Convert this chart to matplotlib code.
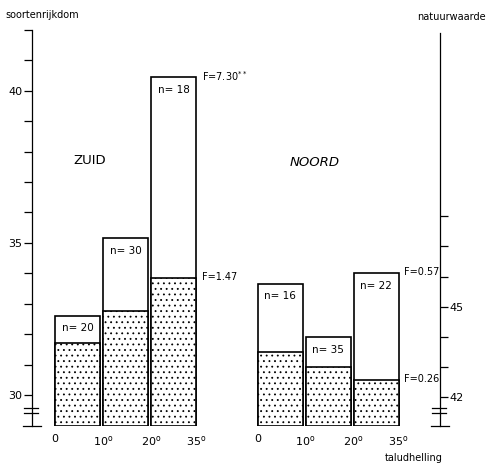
import matplotlib
matplotlib.use('Agg')
import matplotlib.pyplot as plt
from matplotlib.lines import Line2D

# taludhelling (grenzen van de klassen)
grens_labels = ['0', '10$^{\\mathrm{o}}$', '20$^{\\mathrm{o}}$', '35$^{\\mathrm{o}}$']

# ZUID: soortenrijkdom (linker as) en natuurwaarde (rechter as)
zuid_soorten = [32.6, 35.15, 40.45]
zuid_natuur = [43.8, 44.85, 45.95]
zuid_n = [20, 30, 18]
zuid_f = ['F=7.30$^{**}$', 'F=1.47']

# NOORD
noord_soorten = [33.65, 31.9, 34.0]
noord_natuur = [43.5, 43.0, 42.55]
noord_n = [16, 35, 22]
noord_f = ['F=0.57', 'F=0.26']

W, H = 490, 465
plt.rcParams['font.family'] = 'DejaVu Sans'
plt.rcParams['hatch.color'] = '#a0a0a0'
plt.rcParams['hatch.linewidth'] = 0.6

fig = plt.figure(figsize=(W / 100, H / 100), dpi=100)
ax = fig.add_axes([32 / W, 1 - 426 / H, 408 / W, 396 / H])
ax2 = ax.twinx()

ax.set_xlim(0, 8.5)
ax.set_ylim(28.98, 42.0)
ax2.set_ylim(41.03, 54.2)

breedte = 0.94
starts = [0.48, 4.70]
groepen = [(zuid_soorten, zuid_natuur, zuid_n, zuid_f),
           (noord_soorten, noord_natuur, noord_n, noord_f)]

xticks = []
for start, (soorten, natuur, ns, fl) in zip(starts, groepen):
    xs = [start + i for i in range(3)]
    ax.bar(xs, [s - 28.98 for s in soorten], bottom=28.98, width=breedte,
           align='edge', facecolor='white', edgecolor='black', linewidth=1.2)
    ax2.bar(xs, [v - 41.03 for v in natuur], bottom=41.03, width=breedte,
            align='edge', facecolor='white', edgecolor='black', linewidth=1.2,
            hatch='...')
    for x, s, n in zip(xs, soorten, ns):
        ax.annotate(f'n= {n}', (x + breedte / 2, s), xytext=(0, -9),
                    textcoords='offset points', ha='center', va='center',
                    fontsize=7.5)
    xticks += xs + [xs[-1] + breedte]
    # F-waarden bij de laatste balk
    ax.annotate(fl[0], (xs[-1] + breedte, soorten[-1]), xytext=(4, 1),
                textcoords='offset points', ha='left', va='center', fontsize=7)
    ax2.annotate(fl[1], (xs[-1] + breedte, natuur[-1]), xytext=(4, 1),
                 textcoords='offset points', ha='left', va='center', fontsize=7)

ax.text(1.21, 37.7, 'ZUID', ha='center', va='center', fontsize=9.5)
ax.text(5.9, 37.66, 'NOORD', ha='center', va='center', fontsize=9.5,
        style='italic')

ax.set_xticks(xticks)
ax.set_xticklabels(grens_labels * 2, fontsize=8)
ax.tick_params(axis='x', length=0, pad=6)

ax.set_yticks(range(30, 43))
ax.set_yticklabels([str(v) if v % 5 == 0 else '' for v in range(30, 43)],
                   fontsize=8)
ax.tick_params(axis='y', length=6, width=0.9, pad=1)
ax2.set_yticks(range(42, 49))
ax2.set_yticklabels([str(v) if v in (42, 45) else '' for v in range(42, 49)],
                    fontsize=8)
ax2.tick_params(axis='y', length=6, width=0.9, pad=1)

for a in (ax, ax2):
    a.spines['top'].set_visible(False)
    a.spines['bottom'].set_visible(False)
ax.spines['right'].set_visible(False)
ax2.spines['left'].set_visible(False)
ax.spines['left'].set_bounds(29.4, 42.0)
ax2.spines['right'].set_bounds(41.45, 54.1)
ax.spines['left'].set_linewidth(0.9)
ax2.spines['right'].set_linewidth(0.9)


def lijn(x0, y0, x1, y1):
    fig.add_artist(Line2D([x0 / W, x1 / W], [1 - y0 / H, 1 - y1 / H],
                          color='black', linewidth=0.9))


# asbreuk-tekens onderaan beide assen
for xa in (32, 440):
    lijn(xa - 8, 408, xa + 6, 408)
    lijn(xa - 8, 413, xa + 6, 413)
    lijn(xa, 413, xa, 426)
    lijn(xa - 9, 426, xa + 9, 426)

fig.text(5 / W, 1 - 15 / H, 'soortenrijkdom', fontsize=7, va='center',
         ha='left')
fig.text(486 / W, 1 - 17 / H, 'natuurwaarde', fontsize=7, va='center',
         ha='right')
fig.text(443 / W, 1 - 458 / H, 'taludhelling', fontsize=7, va='center',
         ha='right')

fig.savefig('out.png', dpi=100)
